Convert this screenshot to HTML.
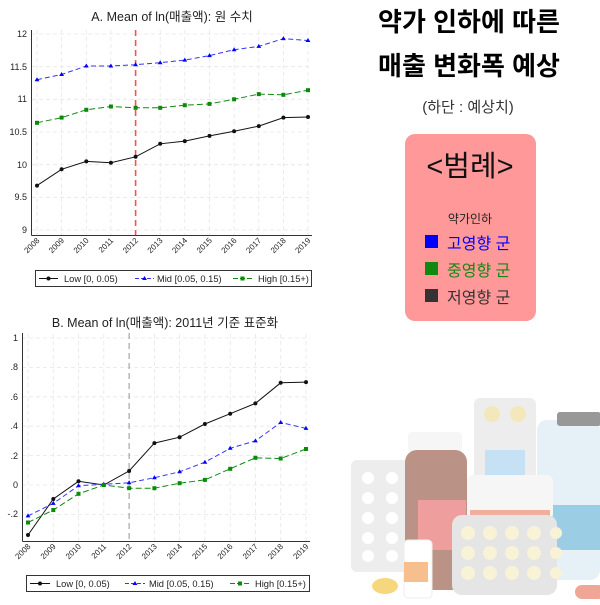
<!DOCTYPE html>
<html><head><meta charset="utf-8"><style>
body{margin:0;background:#fff;width:600px;height:600px;overflow:hidden;font-family:"Liberation Sans","Noto Sans CJK KR",sans-serif}
</style></head><body>
<svg width="600" height="600" viewBox="0 0 600 600" xmlns="http://www.w3.org/2000/svg" font-family="Liberation Sans, Noto Sans CJK KR, sans-serif">
<rect width="600" height="600" fill="#fff"/>
<!-- Chart A -->
<text x="172" y="21" font-size="12.5" text-anchor="middle" fill="#222">A. Mean of ln(매출액): 원 수치</text>
<g stroke="#e6e6e6" stroke-width="0.8" stroke-dasharray="4,3">
<line x1="32" y1="34" x2="312" y2="34"/><line x1="32" y1="66.7" x2="312" y2="66.7"/><line x1="32" y1="99.3" x2="312" y2="99.3"/><line x1="32" y1="132" x2="312" y2="132"/><line x1="32" y1="164.7" x2="312" y2="164.7"/><line x1="32" y1="197.3" x2="312" y2="197.3"/><line x1="32" y1="230" x2="312" y2="230"/>
<line x1="37" y1="30" x2="37" y2="235"/><line x1="61.6" y1="30" x2="61.6" y2="235"/><line x1="86.3" y1="30" x2="86.3" y2="235"/><line x1="110.9" y1="30" x2="110.9" y2="235"/><line x1="160.2" y1="30" x2="160.2" y2="235"/><line x1="184.8" y1="30" x2="184.8" y2="235"/><line x1="209.5" y1="30" x2="209.5" y2="235"/><line x1="234.1" y1="30" x2="234.1" y2="235"/><line x1="258.8" y1="30" x2="258.8" y2="235"/><line x1="283.4" y1="30" x2="283.4" y2="235"/><line x1="308" y1="30" x2="308" y2="235"/>
</g>
<line x1="31.5" y1="30" x2="31.5" y2="235.5" stroke="#333"/><line x1="31.5" y1="235.5" x2="312" y2="235.5" stroke="#333"/>
<line x1="135.6" y1="30" x2="135.6" y2="235" stroke="#ff4d4d" stroke-width="1.6" stroke-dasharray="6,4"/>
<g font-size="9" fill="#222" text-anchor="end">
<text x="27" y="37">12</text><text x="27" y="70">11.5</text><text x="27" y="102">11</text><text x="27" y="135">10.5</text><text x="27" y="168">10</text><text x="27" y="200">9.5</text><text x="27" y="233">9</text>
</g>
<g font-size="8" fill="#222" text-anchor="end">
<text transform="translate(40,241) rotate(-45)">2008</text><text transform="translate(64.6,241) rotate(-45)">2009</text><text transform="translate(89.3,241) rotate(-45)">2010</text><text transform="translate(113.9,241) rotate(-45)">2011</text><text transform="translate(138.6,241) rotate(-45)">2012</text><text transform="translate(163.2,241) rotate(-45)">2013</text><text transform="translate(187.8,241) rotate(-45)">2014</text><text transform="translate(212.5,241) rotate(-45)">2015</text><text transform="translate(237.1,241) rotate(-45)">2016</text><text transform="translate(261.8,241) rotate(-45)">2017</text><text transform="translate(286.4,241) rotate(-45)">2018</text><text transform="translate(311,241) rotate(-45)">2019</text>
</g>
<polyline fill="none" stroke="#111" stroke-width="1" points="37,185.6 61.6,169.3 86.3,161.4 110.9,162.7 135.6,156.8 160.2,143.8 184.8,141.1 209.5,135.9 234.1,131.3 258.8,126.1 283.4,117.6 308,117"/>
<g fill="#111"><circle cx="37" cy="185.6" r="2"/><circle cx="61.6" cy="169.3" r="2"/><circle cx="86.3" cy="161.4" r="2"/><circle cx="110.9" cy="162.7" r="2"/><circle cx="135.6" cy="156.8" r="2"/><circle cx="160.2" cy="143.8" r="2"/><circle cx="184.8" cy="141.1" r="2"/><circle cx="209.5" cy="135.9" r="2"/><circle cx="234.1" cy="131.3" r="2"/><circle cx="258.8" cy="126.1" r="2"/><circle cx="283.4" cy="117.6" r="2"/><circle cx="308" cy="117" r="2"/></g>
<polyline fill="none" stroke="#3333ff" stroke-width="1" stroke-dasharray="5,3" points="37,79.7 61.6,74.5 86.3,66 110.9,66 135.6,64.7 160.2,62.7 184.8,60.1 209.5,55.6 234.1,49.7 258.8,46.4 283.4,38.6 308,40.5"/>
<g fill="#00f"><path d="M37,77.2l2.4,4h-4.8z"/><path d="M61.6,72l2.4,4h-4.8z"/><path d="M86.3,63.5l2.4,4h-4.8z"/><path d="M110.9,63.5l2.4,4h-4.8z"/><path d="M135.6,62.2l2.4,4h-4.8z"/><path d="M160.2,60.2l2.4,4h-4.8z"/><path d="M184.8,57.6l2.4,4h-4.8z"/><path d="M209.5,53.1l2.4,4h-4.8z"/><path d="M234.1,47.2l2.4,4h-4.8z"/><path d="M258.8,43.9l2.4,4h-4.8z"/><path d="M283.4,36.1l2.4,4h-4.8z"/><path d="M308,38l2.4,4h-4.8z"/></g>
<polyline fill="none" stroke="#118811" stroke-width="1" stroke-dasharray="6,3" points="37,122.8 61.6,117.6 86.3,109.8 110.9,106.5 135.6,107.8 160.2,107.8 184.8,105.2 209.5,103.9 234.1,99.3 258.8,94.1 283.4,94.8 308,90.2"/>
<g fill="#0a8a0a"><rect x="35" y="120.8" width="4" height="4"/><rect x="59.6" y="115.6" width="4" height="4"/><rect x="84.3" y="107.8" width="4" height="4"/><rect x="108.9" y="104.5" width="4" height="4"/><rect x="133.6" y="105.8" width="4" height="4"/><rect x="158.2" y="105.8" width="4" height="4"/><rect x="182.8" y="103.2" width="4" height="4"/><rect x="207.5" y="101.9" width="4" height="4"/><rect x="232.1" y="97.3" width="4" height="4"/><rect x="256.8" y="92.1" width="4" height="4"/><rect x="281.4" y="92.8" width="4" height="4"/><rect x="306" y="88.2" width="4" height="4"/></g>
<rect x="35.5" y="270.5" width="276" height="16" fill="#fff" stroke="#333"/>
<line x1="39" y1="278.5" x2="58" y2="278.5" stroke="#111"/><circle cx="48.5" cy="278.5" r="2" fill="#111"/>
<text x="64" y="282" font-size="9.3" fill="#222">Low [0, 0.05)</text>
<line x1="135" y1="278.5" x2="154" y2="278.5" stroke="#33f" stroke-dasharray="4,2"/><path d="M144.5,276l2.4,4h-4.8z" fill="#00f"/>
<text x="157" y="282" font-size="9.3" fill="#222">Mid [0.05, 0.15)</text>
<line x1="233" y1="278.5" x2="252" y2="278.5" stroke="#181" stroke-dasharray="5,2"/><rect x="240.5" y="276.5" width="4" height="4" fill="#0a8a0a"/>
<text x="258" y="282" font-size="9.3" fill="#222">High [0.15+)</text>

<!-- Chart B -->
<text x="165" y="327" font-size="12.5" text-anchor="middle" fill="#222">B. Mean of ln(매출액): 2011년 기준 표준화</text>
<g stroke="#e6e6e6" stroke-width="0.8" stroke-dasharray="4,3">
<line x1="22" y1="338" x2="310" y2="338"/><line x1="22" y1="367.4" x2="310" y2="367.4"/><line x1="22" y1="396.8" x2="310" y2="396.8"/><line x1="22" y1="426.2" x2="310" y2="426.2"/><line x1="22" y1="455.6" x2="310" y2="455.6"/><line x1="22" y1="485" x2="310" y2="485"/><line x1="22" y1="514.4" x2="310" y2="514.4"/>
<line x1="28" y1="334" x2="28" y2="541"/><line x1="53.3" y1="334" x2="53.3" y2="541"/><line x1="78.5" y1="334" x2="78.5" y2="541"/><line x1="103.8" y1="334" x2="103.8" y2="541"/><line x1="154.4" y1="334" x2="154.4" y2="541"/><line x1="179.6" y1="334" x2="179.6" y2="541"/><line x1="204.9" y1="334" x2="204.9" y2="541"/><line x1="230.2" y1="334" x2="230.2" y2="541"/><line x1="255.4" y1="334" x2="255.4" y2="541"/><line x1="280.7" y1="334" x2="280.7" y2="541"/><line x1="306" y1="334" x2="306" y2="541"/>
</g>
<line x1="22.5" y1="333" x2="22.5" y2="541.5" stroke="#333"/><line x1="22.5" y1="541.5" x2="310" y2="541.5" stroke="#333"/>
<line x1="129.1" y1="333" x2="129.1" y2="541" stroke="#888" stroke-width="0.9" stroke-dasharray="6,4"/>
<g font-size="9" fill="#222" text-anchor="end">
<text x="18" y="341">1</text><text x="18" y="370">.8</text><text x="18" y="400">.6</text><text x="18" y="429">.4</text><text x="18" y="459">.2</text><text x="18" y="488">0</text><text x="18" y="517">-.2</text>
</g>
<g font-size="8" fill="#222" text-anchor="end">
<text transform="translate(31,547) rotate(-45)">2008</text><text transform="translate(56.3,547) rotate(-45)">2009</text><text transform="translate(81.5,547) rotate(-45)">2010</text><text transform="translate(106.8,547) rotate(-45)">2011</text><text transform="translate(132.1,547) rotate(-45)">2012</text><text transform="translate(157.4,547) rotate(-45)">2013</text><text transform="translate(182.6,547) rotate(-45)">2014</text><text transform="translate(207.9,547) rotate(-45)">2015</text><text transform="translate(233.2,547) rotate(-45)">2016</text><text transform="translate(258.4,547) rotate(-45)">2017</text><text transform="translate(283.7,547) rotate(-45)">2018</text><text transform="translate(309,547) rotate(-45)">2019</text>
</g>
<polyline fill="none" stroke="#111" stroke-width="1" points="28,535 53.3,499 78.5,481.3 103.8,485 129.1,471 154.4,443.1 179.6,437.2 204.9,424 230.2,413.7 255.4,403.4 280.7,382.8 306,382.1"/>
<g fill="#111"><circle cx="28" cy="535" r="2"/><circle cx="53.3" cy="499" r="2"/><circle cx="78.5" cy="481.3" r="2"/><circle cx="103.8" cy="485" r="2"/><circle cx="129.1" cy="471" r="2"/><circle cx="154.4" cy="443.1" r="2"/><circle cx="179.6" cy="437.2" r="2"/><circle cx="204.9" cy="424" r="2"/><circle cx="230.2" cy="413.7" r="2"/><circle cx="255.4" cy="403.4" r="2"/><circle cx="280.7" cy="382.8" r="2"/><circle cx="306" cy="382.1" r="2"/></g>
<polyline fill="none" stroke="#3333ff" stroke-width="1" stroke-dasharray="5,3" points="28,515.9 53.3,503.4 78.5,485.7 103.8,484.3 129.1,482.8 154.4,477.7 179.6,471.8 204.9,462.2 230.2,448.3 255.4,440.9 280.7,422.5 306,428.4"/>
<g fill="#00f"><path d="M28,513.4l2.4,4h-4.8z"/><path d="M53.3,500.9l2.4,4h-4.8z"/><path d="M78.5,483.2l2.4,4h-4.8z"/><path d="M103.8,481.8l2.4,4h-4.8z"/><path d="M129.1,480.3l2.4,4h-4.8z"/><path d="M154.4,475.2l2.4,4h-4.8z"/><path d="M179.6,469.3l2.4,4h-4.8z"/><path d="M204.9,459.7l2.4,4h-4.8z"/><path d="M230.2,445.8l2.4,4h-4.8z"/><path d="M255.4,438.4l2.4,4h-4.8z"/><path d="M280.7,420l2.4,4h-4.8z"/><path d="M306,425.9l2.4,4h-4.8z"/></g>
<polyline fill="none" stroke="#118811" stroke-width="1" stroke-dasharray="6,3" points="28,522.5 53.3,510 78.5,493.8 103.8,485 129.1,488.2 154.4,488.2 179.6,483.2 204.9,479.9 230.2,468.8 255.4,457.8 280.7,458.5 306,449"/>
<g fill="#0a8a0a"><rect x="26" y="520.5" width="4" height="4"/><rect x="51.3" y="508" width="4" height="4"/><rect x="76.5" y="491.8" width="4" height="4"/><rect x="101.8" y="483" width="4" height="4"/><rect x="127.1" y="486.2" width="4" height="4"/><rect x="152.4" y="486.2" width="4" height="4"/><rect x="177.6" y="481.2" width="4" height="4"/><rect x="202.9" y="477.9" width="4" height="4"/><rect x="228.2" y="466.8" width="4" height="4"/><rect x="253.4" y="455.8" width="4" height="4"/><rect x="278.7" y="456.5" width="4" height="4"/><rect x="304" y="447" width="4" height="4"/></g>
<rect x="26.5" y="575.5" width="283" height="16" fill="#fff" stroke="#333"/>
<line x1="30" y1="583.5" x2="50" y2="583.5" stroke="#111"/><circle cx="40" cy="583.5" r="2" fill="#111"/>
<text x="56" y="587" font-size="9.3" fill="#222">Low [0, 0.05)</text>
<line x1="125" y1="583.5" x2="145" y2="583.5" stroke="#33f" stroke-dasharray="4,2"/><path d="M135,581l2.4,4h-4.8z" fill="#00f"/>
<text x="149" y="587" font-size="9.3" fill="#222">Mid [0.05, 0.15)</text>
<line x1="230" y1="583.5" x2="250" y2="583.5" stroke="#181" stroke-dasharray="5,2"/><rect x="238" y="581.5" width="4" height="4" fill="#0a8a0a"/>
<text x="255" y="587" font-size="9.3" fill="#222">High [0.15+)</text>

<!-- Right panel -->
<g font-weight="bold" font-size="26" text-anchor="middle" fill="#000">
<text x="469" y="31">약가 인하에 따른</text>
<text x="469" y="75">매출 변화폭 예상</text>
</g>
<text x="468" y="112" font-size="15" text-anchor="middle" fill="#333">(하단 : 예상치)</text>
<rect x="405" y="134" width="131" height="187" rx="10" fill="#ff9999"/>
<text x="470" y="176" font-size="29" text-anchor="middle" fill="#111">&lt;범례&gt;</text>
<text x="470" y="223" font-size="12" text-anchor="middle" fill="#222">약가인하</text>
<rect x="425" y="235" width="13" height="13" fill="#0000ff"/><text x="447" y="249" font-size="16" fill="#0000ff">고영향 군</text>
<rect x="425" y="262" width="13" height="13" fill="#118811"/><text x="447" y="276" font-size="16" fill="#118811">중영향 군</text>
<rect x="425" y="289" width="13" height="13" fill="#333"/><text x="447" y="303" font-size="16" fill="#333">저영향 군</text>

<!-- Medicine illustration (pale) -->
<g opacity="0.5">
<rect x="351" y="460" width="60" height="112" rx="6" fill="#ddd"/>
<g fill="#fff"><circle cx="368" cy="478" r="6"/><circle cx="392" cy="478" r="6"/><circle cx="368" cy="498" r="6"/><circle cx="392" cy="498" r="6"/><circle cx="368" cy="518" r="6"/><circle cx="392" cy="518" r="6"/><circle cx="368" cy="538" r="6"/><circle cx="392" cy="538" r="6"/><circle cx="368" cy="556" r="6"/><circle cx="392" cy="556" r="6"/></g>
<rect x="474" y="398" width="62" height="110" rx="6" fill="#ddd"/>
<circle cx="492" cy="414" r="8" fill="#e8d27a"/><circle cx="518" cy="414" r="8" fill="#e8d27a"/>
<rect x="485" y="450" width="40" height="30" fill="#8cc4e8"/>
<rect x="537" y="420" width="63" height="160" rx="10" fill="#cfe4f0"/>
<rect x="557" y="412" width="44" height="14" rx="3" fill="#333"/>
<rect x="537" y="505" width="63" height="45" fill="#3a9ccc"/>
<rect x="408" y="432" width="54" height="20" rx="4" fill="#eee"/>
<rect x="405" y="450" width="62" height="140" rx="12" fill="#7a2a10"/>
<rect x="418" y="500" width="48" height="50" fill="#e04040"/>
<rect x="467" y="475" width="86" height="45" rx="6" fill="#eee"/>
<rect x="470" y="510" width="80" height="20" fill="#e06040"/>
<rect x="452" y="515" width="105" height="80" rx="10" fill="#ccc"/>
<g fill="#f3e6b0"><circle cx="468" cy="533" r="7"/><circle cx="490" cy="533" r="7"/><circle cx="512" cy="533" r="7"/><circle cx="534" cy="533" r="7"/><circle cx="556" cy="533" r="6"/><circle cx="468" cy="553" r="7"/><circle cx="490" cy="553" r="7"/><circle cx="512" cy="553" r="7"/><circle cx="534" cy="553" r="7"/><circle cx="556" cy="553" r="6"/><circle cx="468" cy="573" r="7"/><circle cx="490" cy="573" r="7"/><circle cx="512" cy="573" r="7"/><circle cx="534" cy="573" r="7"/><circle cx="556" cy="573" r="6"/></g>
<rect x="404" y="540" width="28" height="58" rx="4" fill="#fff" stroke="#ddd"/>
<rect x="404" y="562" width="24" height="20" fill="#f08020"/>
<ellipse cx="385" cy="586" rx="13" ry="8" fill="#f0b000"/>
<rect x="575" y="585" width="30" height="14" rx="7" fill="#e05030"/>
</g>
</svg>
</body></html>
